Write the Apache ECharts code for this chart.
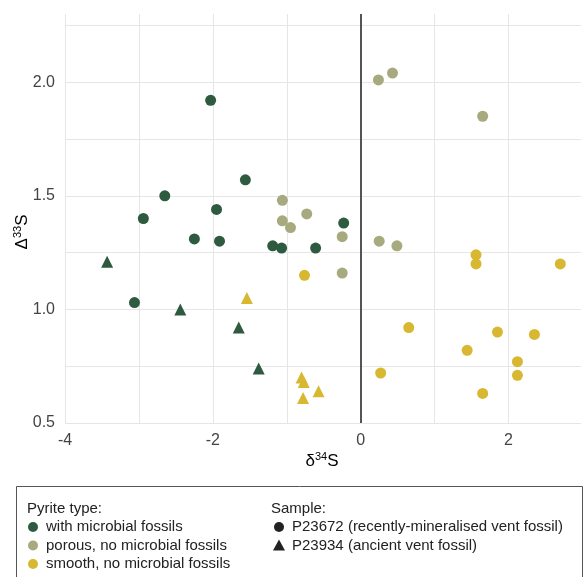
<!DOCTYPE html>
<html>
<head>
<meta charset="utf-8">
<script src="https://cdn.jsdelivr.net/npm/echarts@6/dist/echarts.min.js"></script>
<style>
  html, body { margin: 0; padding: 0; background: #fff; }
  #chart { width: 584px; height: 577px; }
</style>
</head>
<body>
<div id="chart"></div>
<script>
// Sulfur isotope measurements of pyrite: δ34S (x) against Δ33S (y)
const pyriteTypes = ['with microbial fossils', 'porous, no microbial fossils', 'smooth, no microbial fossils'];
const pyriteColors = ['#2e5b3f', '#a7aa7e', '#d8b731'];
const samples = ['P23672 (recently-mineralised vent fossil)', 'P23934 (ancient vent fossil)'];
const sampleSymbols = ['circle', 'triangle'];

// [δ34S, Δ33S]
const microbialP23672 = [[-2.03, 1.92], [-1.56, 1.57], [-2.65, 1.50], [-1.95, 1.44], [-2.94, 1.40], [-0.23, 1.38],
  [-2.25, 1.31], [-1.91, 1.30], [-1.19, 1.28], [-1.07, 1.27], [-0.61, 1.27], [-3.06, 1.03]];
const microbialP23934 = [[-3.43, 1.21], [-2.44, 1.00], [-1.65, 0.92], [-1.38, 0.74]];
const porousP23672 = [[-1.06, 1.48], [-0.73, 1.42], [-1.06, 1.39], [-0.95, 1.36], [-0.25, 1.32], [-0.25, 1.16],
  [0.24, 2.01], [0.43, 2.04], [1.65, 1.85], [0.25, 1.30], [0.49, 1.28]];
const smoothP23672 = [[-0.76, 1.15], [1.56, 1.24], [1.56, 1.20], [2.70, 1.20], [0.65, 0.92], [1.85, 0.90],
  [2.35, 0.89], [1.44, 0.82], [2.12, 0.77], [2.12, 0.71], [0.27, 0.72], [1.65, 0.63]];
const smoothP23934 = [[-1.54, 1.05], [-0.80, 0.70], [-0.77, 0.68], [-0.78, 0.61], [-0.57, 0.64]];

const FONT = '"Liberation Sans", Arial, Helvetica, sans-serif';

function scatter(name, data, typeIdx, sampleIdx) {
  return {
    name: name,
    type: 'scatter',
    data: data,
    symbol: sampleSymbols[sampleIdx],
    symbolSize: sampleIdx === 0 ? 11 : 12,
    itemStyle: { color: pyriteColors[typeIdx], opacity: 1 },
    z: 3
  };
}

const series = [
  scatter('microbial-P23672', microbialP23672, 0, 0),
  scatter('microbial-P23934', microbialP23934, 0, 1),
  scatter('porous-P23672', porousP23672, 1, 0),
  scatter('smooth-P23672', smoothP23672, 2, 0),
  scatter('smooth-P23934', smoothP23934, 2, 1)
];
// vertical reference line at δ34S = 0
series[0].markLine = {
  silent: true,
  symbol: 'none',
  label: { show: false },
  lineStyle: { color: '#555', width: 2, type: 'solid' },
  data: [{ xAxis: 0 }],
  z: 2
};

// legend drawn as a framed two-column key
const legendItems = [];
const LX = 16, LY = 486;
legendItems.push({
  type: 'rect', shape: { x: LX + 0.5, y: LY + 0.5, width: 566, height: 110 },
  style: { fill: 'none', stroke: '#555', lineWidth: 1 }, silent: true
});
const textStyle = (t, x, y) => ({
  type: 'text', x: x, y: y,
  style: { text: t, font: '15px ' + FONT, fill: '#222', verticalAlign: 'middle', align: 'left' }
});
legendItems.push(textStyle('Pyrite type:', 27, 509));
pyriteTypes.forEach((t, i) => {
  const y = 527 + i * 18.5;
  legendItems.push({ type: 'circle', shape: { cx: 33, cy: y, r: 5 }, style: { fill: pyriteColors[i] } });
  legendItems.push(textStyle(t, 46, y));
});
legendItems.push(textStyle('Sample:', 271, 509));
samples.forEach((t, i) => {
  const y = 527 + i * 18.5;
  if (sampleSymbols[i] === 'circle') {
    legendItems.push({ type: 'circle', shape: { cx: 279, cy: y, r: 5 }, style: { fill: '#222' } });
  } else {
    legendItems.push({ type: 'polygon', shape: { points: [[279, y - 6], [285, y + 5], [273, y + 5]] }, style: { fill: '#222' } });
  }
  legendItems.push(textStyle(t, 292, y));
});

// axis titles with superscripts
const nameRich = {
  n: { fontSize: 17, fontFamily: FONT, color: '#222' },
  s: { fontSize: 11, fontFamily: FONT, color: '#222', padding: [0, 0, 8, 0] }
};
legendItems.push({
  type: 'text', x: 322, y: 461,
  style: { text: '{n|δ}{s|34}{n|S}', rich: nameRich, align: 'center', verticalAlign: 'middle' }
});
legendItems.push({
  type: 'text', x: 22, y: 232, rotation: Math.PI / 2,
  style: { text: '{n|Δ}{s|33}{n|S}', rich: nameRich, align: 'center', verticalAlign: 'middle' }
});

const chart = echarts.init(document.getElementById('chart'), null, { renderer: 'canvas' });
chart.setOption({
  animation: false,
  backgroundColor: '#fff',
  grid: { left: 65, top: 14, width: 519, height: 409, containLabel: false },
  xAxis: {
    type: 'value', min: -4, max: 2.98, interval: 1,
    axisLine: { show: false }, axisTick: { show: false },
    splitLine: { show: true, showMaxLine: false, lineStyle: { color: '#e6e6e6', width: 1 } },
    axisLabel: {
      margin: 10, fontSize: 16, fontFamily: FONT, color: '#444',
      formatter: v => (Math.abs(v - Math.round(v)) < 1e-6 && Math.round(v) % 2 === 0) ? String(Math.round(v)) : ''
    }
  },
  yAxis: {
    type: 'value', min: 0.5, max: 2.3, interval: 0.25,
    axisLine: { show: false }, axisTick: { show: false },
    splitLine: { show: true, showMaxLine: false, lineStyle: { color: '#e6e6e6', width: 1 } },
    axisLabel: {
      margin: 10, fontSize: 16, fontFamily: FONT, color: '#444',
      formatter: v => (Math.abs(v * 2 - Math.round(v * 2)) < 1e-6) ? v.toFixed(1) : ''
    }
  },
  series: series,
  graphic: legendItems
});
</script>
</body>
</html>
